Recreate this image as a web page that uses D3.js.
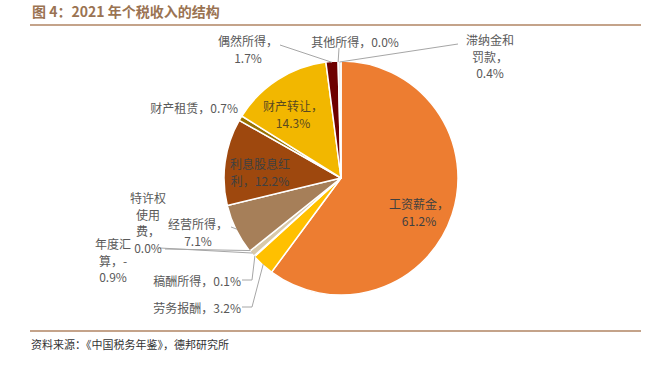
<!DOCTYPE html>
<html>
<head>
<meta charset="utf-8">
<script src="https://cdn.jsdelivr.net/npm/d3@7"></script>
<style>
  html, body { margin: 0; padding: 0; background: #fff; }
  svg text { font-family: "Noto Sans CJK SC", "Noto Sans", sans-serif; }
</style>
</head>
<body>
<div id="chart"></div>
<script>
// Chart data: share of 2021 individual income tax revenue by income type (%).
const categories = ["工资薪金", "劳务报酬", "稿酬所得", "年度汇算", "特许权使用费", "经营所得",
  "利息股息红利", "财产租赁", "财产转让", "偶然所得", "其他所得", "滞纳金和罚款"];
const shares = [61.2, 3.2, 0.1, -0.9, 0.0, 7.1, 12.2, 0.7, 14.3, 1.7, 0.0, 0.4];

// Slice colours, same order as categories.
const palette = ["#ED7D31", "#FFC000", "#C9A26B", "#D8C9AA", "#B0B0B0", "#A67F59",
  "#9E480E", "#997300", "#F2B700", "#6E0000", "#BFBFBF", "#E8E8E8"];

const titleText = "图 4：2021 年个税收入的结构";
const sourceText = "资料来源：《中国税务年鉴》，德邦研究所";

const width = 671;
const height = 372;
const center = { x: 341, y: 178 };
const radius = 117;

// Label layout (per category): anchor position, text anchor, line breaks,
// and optional leader line path points on the label side.
const labelLayout = {
  "工资薪金":     { x: 419, y: 203, anchor: "middle", breaks: [5], fill: "#404040" },
  "劳务报酬":     { x: 241, y: 307, anchor: "end", leader: [[242, 307], [252, 307]] },
  "稿酬所得":     { x: 241, y: 280, anchor: "end", leader: [[242, 280], [252, 280]] },
  "年度汇算":     { x: 113, y: 243, anchor: "middle", breaks: [3, 3], leader: [[160, 248]] },
  "特许权使用费": { x: 148, y: 197, anchor: "middle", breaks: [3, 2, 2], leader: [[165, 249]] },
  "经营所得":     { x: 198, y: 223, anchor: "middle", breaks: [5], leader: [[231, 227]] },
  "利息股息红利": { x: 260, y: 163, anchor: "middle", breaks: [5], fill: "#404040" },
  "财产租赁":     { x: 238, y: 107, anchor: "end" },
  "财产转让":     { x: 293, y: 105, anchor: "middle", breaks: [5], fill: "#5A4A20" },
  "偶然所得":     { x: 248, y: 40, anchor: "middle", breaks: [5], leader: [[280, 45]] },
  "其他所得":     { x: 355, y: 41, anchor: "middle", leader: [[339, 48]] },
  "滞纳金和罚款": { x: 490, y: 39, anchor: "middle", breaks: [4, 3], leader: [[458, 44]] }
};

const lineHeight = 16.5;

function formatShare(v) {
  return `${v.toFixed(1)}%`;
}

function splitLines(text, breaks) {
  const chars = Array.from(text);
  const lines = [];
  let pos = 0;
  (breaks || []).forEach((n) => {
    lines.push(chars.slice(pos, pos + n).join(""));
    pos += n;
  });
  lines.push(chars.slice(pos).join(""));
  return lines;
}

const data = categories.map((c, i) => ({ category: c, value: shares[i], color: palette[i] }));

const svg = d3.select("#chart")
  .append("svg")
  .attr("width", width)
  .attr("height", height);

svg.append("rect")
  .attr("width", width)
  .attr("height", height)
  .attr("fill", "#fff");

// Title and rules.
svg.append("text")
  .attr("x", 32)
  .attr("y", 17)
  .attr("font-size", 14)
  .attr("font-weight", "bold")
  .attr("fill", "#9A7352")
  .text(titleText);

svg.append("line")
  .attr("x1", 30).attr("x2", 641)
  .attr("y1", 25).attr("y2", 25)
  .attr("stroke", "#B08563")
  .attr("stroke-width", 1.5);

svg.append("line")
  .attr("x1", 30).attr("x2", 641)
  .attr("y1", 331).attr("y2", 331)
  .attr("stroke", "#B08563")
  .attr("stroke-width", 1.5);

svg.append("text")
  .attr("x", 31)
  .attr("y", 349)
  .attr("font-size", 11)
  .attr("fill", "#333")
  .text(sourceText);

// Pie.
const pie = d3.pie()
  .sort(null)
  .value((d) => Math.abs(d.value));

const arcs = pie(data);

const arc = d3.arc()
  .innerRadius(0)
  .outerRadius(radius);

const g = svg.append("g")
  .attr("transform", `translate(${center.x},${center.y})`);

g.selectAll("path.slice")
  .data(arcs.filter((d) => d.value > 0))
  .enter()
  .append("path")
  .attr("class", "slice")
  .attr("d", arc)
  .attr("fill", (d) => d.data.color)
  .attr("stroke", "#fff")
  .attr("stroke-width", 1.5)
  .attr("stroke-linejoin", "round");

function edgePoint(d, r) {
  const a = (d.startAngle + d.endAngle) / 2;
  return [center.x + Math.sin(a) * r, center.y - Math.cos(a) * r];
}

// Leader lines.
const leaderLine = d3.line();
arcs.forEach((d) => {
  const layout = labelLayout[d.data.category];
  if (!layout.leader) return;
  const pts = layout.leader.concat([edgePoint(d, radius - 1)]);
  svg.append("path")
    .attr("d", leaderLine(pts))
    .attr("fill", "none")
    .attr("stroke", "#A6A6A6")
    .attr("stroke-width", 1);
});

// Labels.
arcs.forEach((d) => {
  const layout = labelLayout[d.data.category];
  const text = `${d.data.category}，${formatShare(d.data.value)}`;
  const lines = splitLines(text, layout.breaks);
  const t = svg.append("text")
    .attr("x", layout.x)
    .attr("y", layout.y)
    .attr("text-anchor", layout.anchor)
    .attr("dominant-baseline", "central")
    .attr("font-size", 12)
    .attr("fill", layout.fill || "#595959");
  lines.forEach((line, i) => {
    t.append("tspan")
      .attr("x", layout.x)
      .attr("y", layout.y + i * lineHeight)
      .text(line);
  });
});
</script>
</body>
</html>
